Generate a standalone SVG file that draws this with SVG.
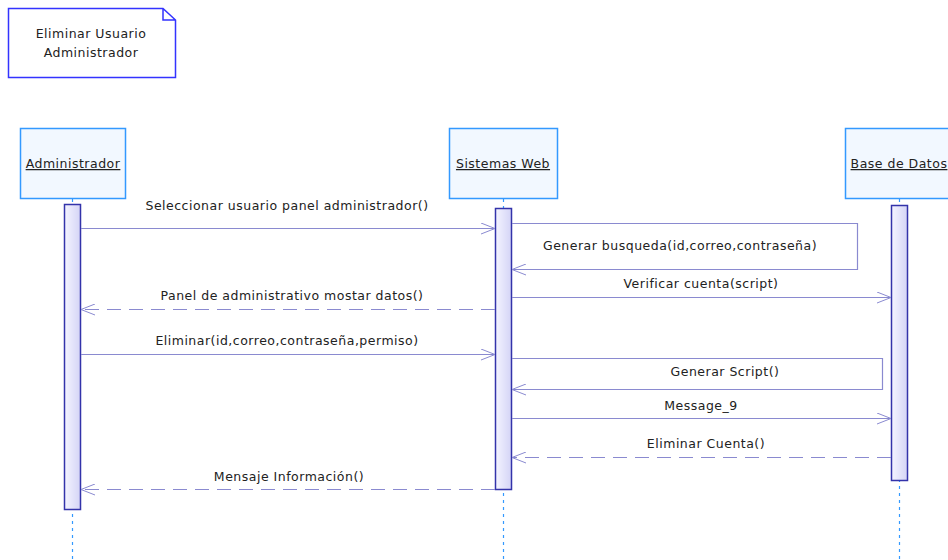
<svg xmlns="http://www.w3.org/2000/svg" width="948" height="560" viewBox="0 0 948 560">
  <defs>
    <linearGradient id="actGrad" x1="0" y1="0" x2="1" y2="0">
      <stop offset="0" stop-color="#f4f4ff"/>
      <stop offset="1" stop-color="#d4d4f6"/>
    </linearGradient>
    <marker id="open" viewBox="0 0 14 12" refX="14" refY="6" markerWidth="14" markerHeight="12" markerUnits="userSpaceOnUse" orient="auto">
      <path d="M0,0.5 L14,6 L0,11.5" fill="none" stroke="#8a8ad0" stroke-width="1"/>
    </marker>
  </defs>
  <style>
    text { font-family: "DejaVu Sans", "Liberation Sans", sans-serif; font-size: 12.5px; letter-spacing: 0.5px; fill: #222; }
    .head { fill: #f2f8ff; stroke: #3399ff; stroke-width: 1.5; }
    .head-t { text-anchor: middle; text-decoration: underline; }
    .life { stroke: #3399ff; stroke-width: 1.2; stroke-dasharray: 3 4; }
    .act { fill: url(#actGrad); stroke: #3333aa; stroke-width: 1.5; }
    .msg { fill: none; stroke: #8a8ad0; stroke-width: 1.2; marker-end: url(#open); }
    .ret { stroke-dasharray: 14 8; }
    .lbl { text-anchor: middle; }
  </style>
  <rect width="948" height="560" fill="#ffffff"/>

  <!-- note -->
  <g id="note">
    <path d="M8.5,8.5 H163 L175.5,20 V77.5 H8.5 Z M163,8.5 V20 H175.5" fill="#ffffff" stroke="#3333ff" stroke-width="1.5"/>
    <text x="91" y="38" text-anchor="middle">Eliminar Usuario</text>
    <text x="91" y="57" text-anchor="middle">Administrador</text>
  </g>

  <!-- lifelines -->
  <g id="lifeline-admin">
    <line class="life" x1="72.5" y1="199" x2="72.5" y2="560"/>
    <rect class="head" x="20.5" y="128.5" width="105" height="70"/>
    <text class="head-t" x="73" y="168">Administrador</text>
    <rect class="act" x="64.5" y="204.5" width="16" height="305"/>
  </g>
  <g id="lifeline-web">
    <line class="life" x1="503.5" y1="199" x2="503.5" y2="560"/>
    <rect class="head" x="449.5" y="128.5" width="108" height="70"/>
    <text class="head-t" x="503" y="168">Sistemas Web</text>
    <rect class="act" x="495.5" y="208.5" width="16" height="281"/>
  </g>
  <g id="lifeline-db">
    <line class="life" x1="899.5" y1="199" x2="899.5" y2="560"/>
    <rect class="head" x="845.5" y="128.5" width="108" height="70"/>
    <text class="head-t" x="899" y="168">Base de Datos</text>
    <rect class="act" x="891.5" y="205.5" width="16" height="275"/>
  </g>

  <!-- messages -->
  <g id="connectors">
    <line class="msg" x1="81" y1="228.5" x2="495" y2="228.5"/>
    <path class="msg" d="M512,223.5 H857.5 V269.5 H512"/>
    <line class="msg" x1="512" y1="297.5" x2="891" y2="297.5"/>
    <line class="msg ret" x1="495" y1="309.5" x2="81" y2="309.5"/>
    <line class="msg" x1="81" y1="354.5" x2="495" y2="354.5"/>
    <path class="msg" d="M512,358.5 H882.5 V389.5 H512"/>
    <line class="msg" x1="512" y1="418.5" x2="891" y2="418.5"/>
    <line class="msg ret" x1="891" y1="457.5" x2="512" y2="457.5"/>
    <line class="msg ret" x1="495" y1="489.5" x2="81" y2="489.5"/>
  </g>

  <g id="labels">
    <text class="lbl" x="287" y="210">Seleccionar usuario panel administrador()</text>
    <text class="lbl" x="680" y="250">Generar busqueda(id,correo,contraseña)</text>
    <text class="lbl" x="701" y="288">Verificar cuenta(script)</text>
    <text class="lbl" x="292" y="300">Panel de administrativo mostar datos()</text>
    <text class="lbl" x="287" y="345">Eliminar(id,correo,contraseña,permiso)</text>
    <text class="lbl" x="725" y="376">Generar Script()</text>
    <text class="lbl" x="701" y="410">Message_9</text>
    <text class="lbl" x="706" y="448">Eliminar Cuenta()</text>
    <text class="lbl" x="289" y="481">Mensaje Información()</text>
  </g>
</svg>
